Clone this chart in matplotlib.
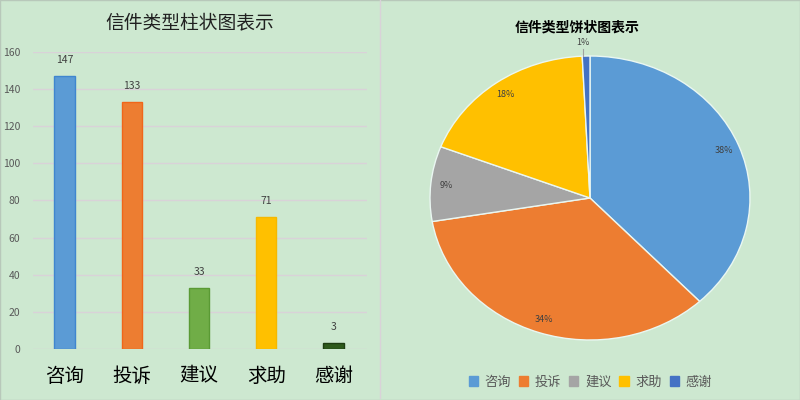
import matplotlib
matplotlib.use("Agg")
import matplotlib.pyplot as plt
from matplotlib.lines import Line2D
from matplotlib.patches import Rectangle

plt.rcParams['font.family'] = ['Noto Sans CJK SC', 'DejaVu Sans']

# ─── Data ────────────────────────────────────────────────────────────────────
categories = ["咨询", "投诉", "建议", "求助", "感谢"]
counts = [147, 133, 33, 71, 3]
y_ticks = [0, 20, 40, 60, 80, 100, 120, 140, 160]

bar_colors = ["#5B9BD5", "#ED7D31", "#70AD47", "#FFC000", "#2E5A1C"]
bar_edges = ["#3F86CF", "#F0661A", "#5A9A34", "#F5B800", "#1E3D12"]
pie_colors = ["#5B9BD5", "#ED7D31", "#A5A5A5", "#FFC000", "#4472C4"]

BG = "#CDE8D0"
GRID = "#D9D2D8"
TXT = "#595959"

fig = plt.figure(figsize=(8, 4), dpi=100, facecolor=BG)

# ─── Bar chart ───────────────────────────────────────────────────────────────
ax = fig.add_axes([0.041, 0.1275, 0.418, 0.7425], facecolor=BG)
x_pos = list(range(len(categories)))
bars = ax.bar(x_pos, counts, width=0.3, color=bar_colors,
              edgecolor=bar_edges, linewidth=1, zorder=3)
for b, v in zip(bars, counts):
    ax.annotate(str(v), (b.get_x() + b.get_width() / 2, v),
                xytext=(0, 8), textcoords="offset points",
                ha="center", va="bottom", fontsize=7.5, color="#404040")

ax.set_xlim(-0.47, 4.5)
ax.set_ylim(0, 160)
ax.set_yticks(y_ticks)
ax.tick_params(axis="y", length=0, labelsize=7.5, labelcolor=TXT, pad=9)
ax.set_xticks(x_pos)
ax.set_xticklabels(categories, fontsize=14)
ax.tick_params(axis="x", length=0, pad=12, labelcolor="black")
ax.grid(axis="y", color=GRID, linewidth=1)
ax.set_axisbelow(True)
for s in ax.spines.values():
    s.set_visible(False)
fig.text(0.2375, 0.943, "信件类型柱状图表示", ha="center", va="center",
         fontsize=13.5, color="#202020")

# ─── Pie chart ───────────────────────────────────────────────────────────────
pax = fig.add_axes([0.5375, 0.15, 0.4, 0.71], facecolor=BG)
wedges, texts, autotexts = pax.pie(
    counts, colors=pie_colors, startangle=90, counterclock=False,
    autopct="%.0f%%", pctdistance=0.9,
    wedgeprops=dict(edgecolor="#EAF7F2", linewidth=1),
    textprops=dict(fontsize=6.5, color="#404040"))
pax.set_aspect("auto")
pax.set_xlim(-1, 1)
pax.set_ylim(-1, 1)

# small slice label goes outside with a leader line
small = autotexts[-1]
small.set_position((-0.045, 1.095))
small.set_va("center")
pax.plot([-0.045, -0.045], [1.0, 1.05], color="#A0A0A0", linewidth=0.8,
         clip_on=False)

fig.text(0.721, 0.93, "信件类型饼状图表示", ha="center", va="center",
         fontsize=10, fontweight="bold", color="black")

handles = [Rectangle((0, 0), 1, 1, color=c) for c in pie_colors]
fig.legend(handles, categories, loc="center", bbox_to_anchor=(0.738, 0.045),
           ncol=5, frameon=False, fontsize=9.5, labelcolor=TXT,
           handlelength=0.7, handleheight=0.7, handletextpad=0.5,
           columnspacing=0.6)

# ─── Panel divider and border ────────────────────────────────────────────────
fig.add_artist(Line2D([0.475, 0.475], [0.005, 1.0], color=GRID,
                      linewidth=1, transform=fig.transFigure))
fig.add_artist(Rectangle((0, 0), 1, 1, transform=fig.transFigure,
                         fill=False, edgecolor="#B8C8BA", linewidth=1))

fig.savefig("out.png", dpi=100, facecolor=BG)
